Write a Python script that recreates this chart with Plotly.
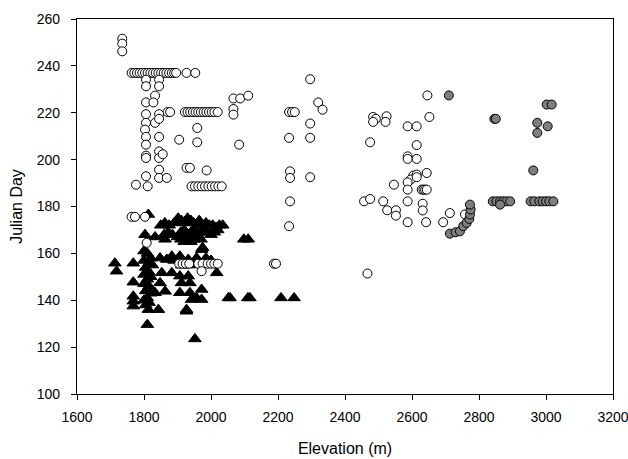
import plotly.graph_objects as go

# ---- Data (Elevation m, Julian day) ----
tri_elev = [1813, 1850, 1862, 1875, 1890, 1902, 1912, 1920, 1930, 1940, 1948, 1958, 1965, 1975, 1985, 1995, 2005, 2015, 2025, 2035,
            1860, 1872, 1885, 1900, 1910, 1920, 1930, 1940, 1950, 1960, 1970, 1980, 1990, 2000, 2010, 2020,
            1910, 1920, 1930, 1940, 1950, 1960, 1970, 1803, 1833, 1863, 2098, 2111, 1975,
            1713, 1718, 1768, 1768, 1768, 1768, 1768,
            1800, 1810, 1820, 1800, 1815, 1825, 1805, 1815, 1800, 1820, 1810, 1800, 1815, 1805, 1820, 1810, 1800, 1815, 1805,
            1813, 1843, 1848, 1833, 1863, 1848, 1868, 1883, 1907, 1853, 1883,
            1907, 1932, 1912, 1937, 1907, 1937, 1932, 1957, 1972, 1972, 1942, 1957, 1972, 1927, 2017, 2052,
            1913, 1937, 1890, 1960, 1985, 2000, 1810, 1952, 1927,
            2057, 2110, 2116, 2209, 2248]
tri_day = [176.6, 172, 173, 172, 173, 175, 174, 173, 175, 174, 173, 172, 174, 172, 173, 172, 172, 171, 172, 172,
           168, 169, 168, 167, 169, 170, 168, 169, 170, 168, 169, 170, 169, 168, 169, 170,
           166, 165, 166, 165, 166, 167, 166, 168, 167, 166, 166, 166, 162.4,
           155.8, 152.4, 155.8, 147.7, 141.7, 139.6, 137.5,
           161, 160, 158, 157, 156, 155, 154, 152, 151, 150, 149, 147, 146, 144, 143, 141, 140, 139, 138,
           136, 136, 147.4, 143.2, 143.8, 158, 157.4, 158.8, 158.8, 151.7, 151.7,
           150.3, 150.3, 147.4, 147.4, 143.2, 143.2, 157.4, 158, 161.6, 144.6, 140.3, 141, 140.3, 136, 151.7, 141,
           155, 155, 157, 157, 158, 157, 129.6, 123.5, 135.3,
           141, 141, 141, 141, 141]

open_elev = [1735, 1735, 1735,
             1763, 1771, 1779, 1787, 1795, 1803, 1811, 1819, 1827, 1835, 1843, 1851, 1859, 1867, 1875, 1883, 1890, 1896, 1927, 1953,
             1806, 1845, 1806, 1845, 1833, 1806, 1828, 2067, 2087, 2111,
             1870, 1878, 1922, 1930, 1938, 1946, 1954, 1962, 1970, 1978, 1986, 1994, 2002, 2010, 2020, 2067, 2067, 1806, 1845,
             2233, 2242, 2250,
             1806, 1833, 1845, 1803, 1806, 1845, 1806, 1806, 1806, 1845, 1845, 1856, 1905, 1959, 1959, 2084,
             1927, 1937, 1987, 1806, 1845, 1845, 1868, 1776, 1811,
             1942, 1952, 1962, 1972, 1982, 1992, 2002, 2012, 2022, 2032,
             2233, 2296, 2236, 2236, 2236, 2233, 2296, 2320, 2333, 2296, 2296,
             1763, 1773, 1803, 1808,
             1905, 1915, 1925, 1935, 1962, 1975, 1990, 2000, 2010, 2020, 1972, 2188, 2194,
             2467, 2475, 2484, 2492, 2484, 2524, 2521, 2646, 2652, 2587, 2614, 2614, 2587, 2587, 2614,
             2644, 2604, 2614, 2596, 2587, 2614, 2546, 2587, 2629, 2634, 2639, 2644,
             2457, 2475, 2514, 2526, 2552, 2552, 2587, 2632, 2632, 2587, 2642, 2693, 2713, 2758]
open_day = [251.6, 249.5, 246.2,
            237, 237, 237, 237, 237, 237, 237, 237, 237, 237, 237, 237, 237, 237, 237, 237, 237, 237, 237, 237,
            234.1, 234.1, 231.3, 231.3, 227.3, 224.4, 224.4, 226.1, 226.1, 227.3,
            220.3, 220.3, 220.3, 220.3, 220.3, 220.3, 220.3, 220.3, 220.3, 220.3, 220.3, 220.3, 220.3, 220.3, 220.3, 221.6, 219.2, 219.4, 219.4,
            220.3, 220.3, 220.3,
            215.7, 215.7, 217.4, 212.8, 209.7, 209.7, 206.4, 201.7, 200.7, 203.5, 200.7, 202.3, 208.5, 213.5, 207.4, 206.4,
            196.5, 196.5, 195.4, 192.9, 195.7, 192.2, 192.2, 189.3, 188.6,
            188.6, 188.6, 188.6, 188.6, 188.6, 188.6, 188.6, 188.6, 188.6, 188.6,
            209.3, 209.3, 195, 192.2, 182.2, 171.6, 234.3, 224.4, 221.3, 215.4, 192.5,
            175.6, 175.6, 175.6, 164.5,
            155.6, 155.6, 155.6, 155.6, 155.6, 155.6, 155.6, 155.6, 155.6, 155.6, 152.4, 155.6, 155.6,
            151.4, 207.4, 218.2, 217.4, 216.1, 218.5, 216.1, 227.4, 218.2, 214.2, 214.2, 206.2, 201.4, 200.3, 200.3,
            194.3, 193.2, 193.6, 191.5, 190.3, 192.5, 189.3, 187.2, 187.2, 187.2, 187.2, 187.2,
            182.2, 183.2, 182.2, 178.4, 178.4, 176.1, 182.2, 181.2, 178.3, 173.3, 173.3, 173.3, 177.2, 176.6]

gray_elev = [2710, 2846, 2850, 3002, 3017, 2974, 3005, 2974, 2962,
             2841, 2852, 2863, 2872, 2882, 2893, 2863,
             2954, 2965, 2980, 2990, 3000, 3010, 3022,
             2713, 2730, 2743, 2753, 2763, 2771, 2773, 2775, 2773]
gray_day = [227.4, 217.4, 217.4, 223.5, 223.5, 215.7, 214.2, 211.4, 195.4,
            182.2, 182.2, 182.2, 182.2, 182.2, 182.2, 180.8,
            182.2, 182.2, 182.2, 182.2, 182.2, 182.2, 182.2,
            168.4, 169, 169.4, 171.6, 173, 174.7, 176.6, 178.7, 180.8]

x_ticks = [1600, 1800, 2000, 2200, 2400, 2600, 2800, 3000, 3200]
y_ticks = [100, 120, 140, 160, 180, 200, 220, 240, 260]

FONT = "Arial, Liberation Sans, sans-serif"

fig = go.Figure()
fig.add_trace(go.Scatter(x=tri_elev, y=tri_day, mode="markers",
                         marker=dict(symbol="triangle-up", size=11, color="black",
                                     line=dict(color="black", width=1))))
fig.add_trace(go.Scatter(x=open_elev, y=open_day, mode="markers",
                         marker=dict(symbol="circle", size=9, color="white",
                                     line=dict(color="black", width=1))))
fig.add_trace(go.Scatter(x=gray_elev, y=gray_day, mode="markers",
                         marker=dict(symbol="circle", size=9, color="#7f7f7f",
                                     line=dict(color="black", width=1))))

axis_common = dict(showline=True, linecolor="black", linewidth=1.3, mirror=True,
                   ticks="outside", ticklen=5, tickwidth=1, tickcolor="black",
                   showgrid=False, zeroline=False, ticklabeloverflow="allow",
                   automargin=False,
                   tickfont=dict(family=FONT, size=14, color="black"))

fig.update_layout(
    width=628, height=459,
    margin=dict(l=77, r=15, t=19, b=65),
    paper_bgcolor="white", plot_bgcolor="white",
    showlegend=False,
    xaxis=dict(range=[1600, 3200], tickvals=x_ticks, ticklabelstandoff=5,
               title=dict(text="Elevation (m)", font=dict(family=FONT, size=16, color="black"),
                          standoff=18),
               **axis_common),
    yaxis=dict(range=[100, 260], tickvals=y_ticks, ticklabelstandoff=8,
               title=dict(text="Julian Day", font=dict(family=FONT, size=16, color="black"),
                          standoff=10),
               **axis_common),
)

# remove the default page margin so the figure sits at the window's top-left corner
fig.write_html("out.html",
               config={"displayModeBar": False},
               post_script="document.body.style.margin='0';document.body.style.padding='0';"
                           "document.body.style.overflow='hidden';")
